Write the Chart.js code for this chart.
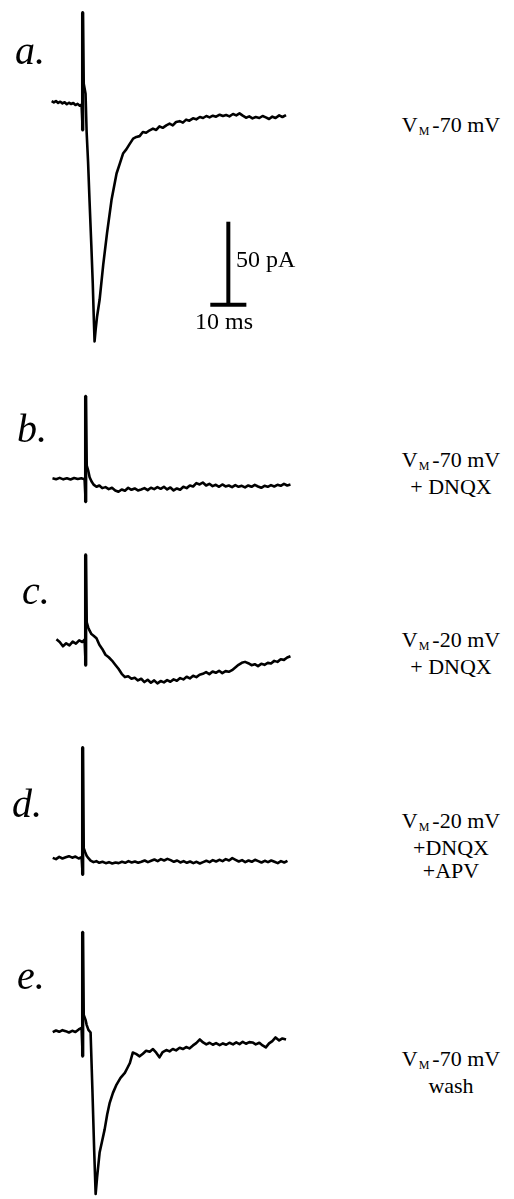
<!DOCTYPE html>
<html>
<head>
<meta charset="utf-8">
<script src="https://cdn.jsdelivr.net/npm/chart.js@4/dist/chart.umd.min.js"></script>
<style>
  html, body { margin: 0; padding: 0; background: #fff; }
  #fig { position: relative; width: 514px; height: 1199px; overflow: hidden; }
  #fig canvas { position: absolute; }
  .letter { position: absolute; font-family: 'Liberation Serif', 'DejaVu Serif', serif; font-style: italic; font-size: 40px; line-height: 40px; color: #000; }
  .cond { position: absolute; width: 200px; text-align: center; font-family: 'Liberation Serif', 'DejaVu Serif', serif; font-size: 22px; line-height: 23px; color: #000; }
  .cond .sub { font-size: 12px; position: relative; top: 3px; margin: 0 3px 0 1px; }
  .bar-text { position: absolute; font-family: 'Liberation Serif', 'DejaVu Serif', serif; font-size: 24px; line-height: 23px; color: #000; white-space: nowrap; }
</style>
</head>
<body>
<div id="fig"></div>
<script>
// Courants synaptiques (pA) en fonction du temps (ms), stimulus a t = 0

// a. Vm -70 mV
const aPreTime = [-8.6, -8.0, -7.4, -6.8, -6.2, -5.6, -5.0, -4.4, -3.8, -3.2, -2.6, -2.0, -1.4, -0.8, -0.3];
const aPreCurrent = [1.5, 0.8, 1.6, 0.5, 1.2, 0.2, 0.9, -0.3, 0.6, -0.2, 0.4, -0.8, -0.1, -1.2, -0.6];
const aEarlyTime = [0.3, 0.8, 1.1, 1.5, 1.9, 2.4, 2.8, 3.1, 3.3, 3.6, 4.0, 4.7, 5.7, 6.75, 8.0, 9.4, 10.3, 11.2, 12.1, 13.1, 14.0, 14.9, 15.8];
const aEarlyCurrent = [12, 6, -17, -35, -58, -85, -108, -130, -143, -136, -128, -118, -97, -78, -58, -42, -36, -30, -27.5, -24, -21, -20, -19.5];
const aTailCurrent = [-17, -17.5, -16, -15, -15.8, -13.6, -14.5, -13, -12, -13, -11, -10.5, -11.4, -9.6, -10.2, -8.8, -9.4, -8, -8.6, -7.4, -8.2, -7.2, -7.8, -6.6, -7.4, -6.8, -7.6, -6.2, -7, -5.8, -7.2, -8.4, -7.6, -8.8, -8, -8.6, -7.4, -8.2, -9.2, -7.8, -8.6, -7, -8, -6.8];
const aStimulus = [-16, 55];

// temps communs de la fin des traces a et e
const tailTime = [16.7, 17.6, 18.6, 19.5, 20.4, 21.3, 22.2, 23.2, 24.1, 25.0, 25.9, 26.9, 27.8, 28.7, 29.6, 30.6, 31.5, 32.5, 33.4, 34.3, 35.2, 36.1, 37.0, 38.0, 38.9, 39.8, 40.7, 41.7, 42.6, 43.5, 44.4, 45.3, 46.2, 47.1, 48.0, 49.0, 49.9, 50.8, 51.7, 52.6, 53.5, 54.5, 55.4, 56.4];

// temps communs apres le stimulus pour b, c, d
const postTime = [0.3, 0.7, 1.1, 1.6, 2.2, 3.0, 3.8, 4.6, 5.5, 6.4, 7.3, 8.2, 9.1, 10.0, 10.9, 11.8, 12.7, 13.6, 14.5, 15.4, 16.3, 17.2, 18.1, 19.0, 19.9, 20.8, 21.7, 22.6, 23.5, 24.4, 25.3, 26.2, 27.1, 28.0, 28.9, 29.8, 30.7, 31.6, 32.5, 33.4, 34.3, 35.2, 36.1, 37.0, 37.9, 38.8, 39.7, 40.6, 41.5, 42.4, 43.3, 44.2, 45.1, 46.0, 46.9, 47.8, 48.7, 49.6, 50.5, 51.4, 52.3, 53.2, 54.1, 55.0, 55.9, 56.8];

// b. Vm -70 mV + DNQX
const bPreTime = [-9.2, -8.2, -7.2, -6.2, -5.2, -4.2, -3.2, -2.2, -1.2, -0.3];
const bPreCurrent = [0.4, -0.2, 0.6, -0.3, 0.3, -0.4, 0.5, -0.1, 0.3, -0.2];
const bPostCurrent = [8, 5, 1, -1.5, -3.5, -4.8, -4, -5.6, -5, -6.2, -5.4, -7, -7.8, -6.4, -7.2, -5.4, -6.6, -5.8, -7, -6.4, -5.6, -6.8, -5.4, -6.2, -5, -6, -4.8, -6.4, -5.2, -7, -5.8, -6.6, -4.8, -5.6, -4, -4.6, -2.6, -3.4, -2.2, -4, -3, -4.4, -3.6, -4.8, -3.4, -4.6, -4, -5, -3.8, -4.8, -4.2, -5.2, -4, -4.8, -3.6, -4.6, -5.4, -4.2, -4.8, -3.8, -4.6, -3.6, -4.2, -3, -4, -3.4];
const bStimulus = [-14, 50];

// c. Vm -20 mV + DNQX
const cPreTime = [-8.1, -7.2, -6.3, -5.4, -4.5, -3.6, -2.7, -1.8, -0.9, -0.3];
const cPreCurrent = [1.8, 0.2, -2.4, -0.6, -1.8, 0.4, -0.8, 1.2, 0.2, 1.6];
const cPostCurrent = [12, 9, 7, 5, 4, 2.5, -1.5, -4, -7.5, -9, -11, -13.5, -16, -19, -21, -20.5, -22, -21.4, -23, -22, -24, -22.6, -24.4, -23, -24.8, -23.4, -24.2, -22.8, -23.8, -22.4, -23.2, -21.6, -22.4, -20.8, -21.8, -20.2, -21, -19.6, -19, -18, -19.2, -17.6, -18.4, -17.2, -18.6, -17.4, -17.8, -16.8, -15.2, -13.6, -12.4, -11.8, -12.6, -13.8, -13.2, -14.4, -13, -13.6, -12.4, -12.8, -11.2, -11.8, -10.2, -10.6, -9.2, -8.4];
const cStimulus = [-14, 53];

// d. Vm -20 mV + DNQX + APV
const dePreTime = [-8.3, -7.4, -6.5, -5.6, -4.7, -3.8, -2.9, -2.0, -1.1, -0.3];
const dPreCurrent = [0.2, -0.6, 0.8, -0.2, 0.5, 1.2, 0.3, 1.0, -0.2, 0.6];
const dPostCurrent = [6, 3.6, 1.5, 0, -1.5, -2.4, -1.8, -2.8, -2.2, -3, -2.4, -3.2, -2.6, -3, -2.2, -2.8, -1.8, -2.6, -2, -2.8, -2.2, -1.4, -2.4, -1.6, -0.8, -1.8, -0.6, -1.4, -0.4, -1.2, -2.2, -1.4, -2.6, -1.8, -2.8, -2, -3, -2.2, -3.2, -2.4, -1.6, -2.4, -1.2, -2, -1, -1.8, -0.6, -1.4, 0, -1, -2, -1.2, -2.4, -1.4, -2.2, -1, -1.8, -2.6, -1.6, -2.4, -1.4, -2.2, -3, -1.8, -2.6, -1.6];
const dStimulus = [-10, 67];

// e. Vm -70 mV wash
const ePreCurrent = [-0.4, 0.6, -0.2, 0.8, 0.2, -0.6, 0.4, -0.3, 1.2, 2.2];
const eEarlyTime = [0.3, 0.8, 1.1, 1.6, 2.2, 2.7, 3.2, 3.6, 4.0, 4.7, 5.4, 6.1, 6.8, 7.5, 8.4, 9.4, 10.5, 11.7, 12.4, 13.1, 13.9, 14.8, 15.8];
const eEarlyCurrent = [10, 7, 4, 1, -0.6, -35, -72, -98, -88, -73, -66, -59, -50, -43, -37, -32, -28, -25, -22, -19, -12.7, -13.5, -15];
const eTailCurrent = [-13.4, -11.6, -12.2, -10.6, -12.8, -15.6, -12.4, -11.2, -12, -10.6, -11.4, -9.8, -10.6, -9.4, -10.2, -8.4, -7, -4.8, -6.6, -7.8, -6.8, -8, -7, -8.2, -7.2, -8, -6.8, -7.8, -6.6, -7.6, -6.2, -7.4, -6.4, -6.6, -7.8, -6.8, -8.4, -9.6, -7.2, -5.8, -3.6, -5.4, -4.2, -4.8];
const eStimulus = [-15, 60];

// barre d'echelle
const scaleBarMs = 10;
const scaleBarPa = 50;
const scaleBarOrigin = [40.4, -121];

// Geometrie de la figure
const PX_PER_MS = 3.6;
const PX_PER_PA = 1.66;
const X_MIN = -11;
const X_MAX = 60;

const pts = (times, currents) => times.map((t, i) => ({ x: t, y: currents[i] }));

// une trace : avant stimulus, artefact vertical, puis la reponse
const sweep = (preT, preI, stim, segments) => {
  let out = pts(preT, preI);
  out.push({ x: 0, y: stim[0] }, { x: 0, y: stim[1] });
  segments.forEach(([t, i]) => { out = out.concat(pts(t, i)); });
  return out;
};

const panels = [
  {
    letter: 'a.', letterX: 15, letterTop: 31,
    stimX: 83, baseY: 104, yMin: -150, yMax: 60,
    data: sweep(aPreTime, aPreCurrent, aStimulus, [[aEarlyTime, aEarlyCurrent], [tailTime, aTailCurrent]]),
    stim: aStimulus,
    cond: ['V<span class="sub">M</span>-70 mV'], condTop: 113,
    scaleBar: true
  },
  {
    letter: 'b.', letterX: 17, letterTop: 409,
    stimX: 86, baseY: 479, yMin: -20, yMax: 56,
    data: sweep(bPreTime, bPreCurrent, bStimulus, [[postTime, bPostCurrent]]),
    stim: bStimulus,
    cond: ['V<span class="sub">M</span>-70 mV', '+ DNQX'], condTop: 448
  },
  {
    letter: 'c.', letterX: 22, letterTop: 571,
    stimX: 86, baseY: 643, yMin: -30, yMax: 60,
    data: sweep(cPreTime, cPreCurrent, cStimulus, [[postTime, cPostCurrent]]),
    stim: cStimulus,
    cond: ['V<span class="sub">M</span>-20 mV', '+ DNQX'], condTop: 628
  },
  {
    letter: 'd.', letterX: 12, letterTop: 784,
    stimX: 83, baseY: 859, yMin: -15, yMax: 72,
    data: sweep(dePreTime, dPreCurrent, dStimulus, [[postTime, dPostCurrent]]),
    stim: dStimulus,
    cond: ['V<span class="sub">M</span>-20 mV', '+DNQX', '+APV'], condTop: 809
  },
  {
    letter: 'e.', letterX: 17, letterTop: 956,
    stimX: 83, baseY: 1032, yMin: -104, yMax: 66,
    data: sweep(dePreTime, ePreCurrent, eStimulus, [[eEarlyTime, eEarlyCurrent], [tailTime, eTailCurrent]]),
    stim: eStimulus,
    cond: ['V<span class="sub">M</span>-70 mV', 'wash'], condTop: 1047
  }
];

const fig = document.getElementById('fig');

const addText = (cls, html, left, top) => {
  const el = document.createElement('div');
  el.className = cls;
  el.innerHTML = html;
  el.style.left = left + 'px';
  el.style.top = top + 'px';
  fig.appendChild(el);
};

panels.forEach(p => {
  const width = Math.round((X_MAX - X_MIN) * PX_PER_MS);
  const height = Math.round((p.yMax - p.yMin) * PX_PER_PA);
  const canvas = document.createElement('canvas');
  canvas.width = width;
  canvas.height = height;
  canvas.style.left = (p.stimX + X_MIN * PX_PER_MS) + 'px';
  canvas.style.top = (p.baseY - p.yMax * PX_PER_PA) + 'px';
  fig.appendChild(canvas);

  const datasets = [
    {
      data: p.data,
      borderColor: '#000',
      borderWidth: 2.6,
      borderJoinStyle: 'round',
      pointRadius: 0,
      tension: 0
    },
    {
      data: [{ x: 0, y: p.stim[0] }, { x: 0, y: p.stim[1] }],
      borderColor: '#000',
      borderWidth: 3.4,
      pointRadius: 0
    }
  ];

  if (p.scaleBar) {
    const [x0, y0] = scaleBarOrigin;
    datasets.push(
      {
        data: [{ x: x0 - scaleBarMs / 2, y: y0 }, { x: x0 + scaleBarMs / 2, y: y0 }],
        borderColor: '#000', borderWidth: 4, pointRadius: 0
      },
      {
        data: [{ x: x0, y: y0 }, { x: x0, y: y0 + scaleBarPa }],
        borderColor: '#000', borderWidth: 4, pointRadius: 0
      }
    );
  }

  new Chart(canvas.getContext('2d'), {
    type: 'line',
    data: { datasets },
    options: {
      responsive: false,
      animation: false,
      devicePixelRatio: 1,
      layout: { padding: 0 },
      clip: false,
      scales: {
        x: { type: 'linear', min: X_MIN, max: X_MAX, display: false },
        y: { type: 'linear', min: p.yMin, max: p.yMax, display: false }
      },
      plugins: { legend: { display: false }, tooltip: { enabled: false } }
    }
  });

  addText('letter', p.letter, p.letterX, p.letterTop);
  addText('cond', p.cond.join('<br>'), 351, p.condTop);
});

addText('bar-text', '50 pA', 236, 248);
addText('bar-text', '10 ms', 195, 310);
</script>
</body>
</html>
